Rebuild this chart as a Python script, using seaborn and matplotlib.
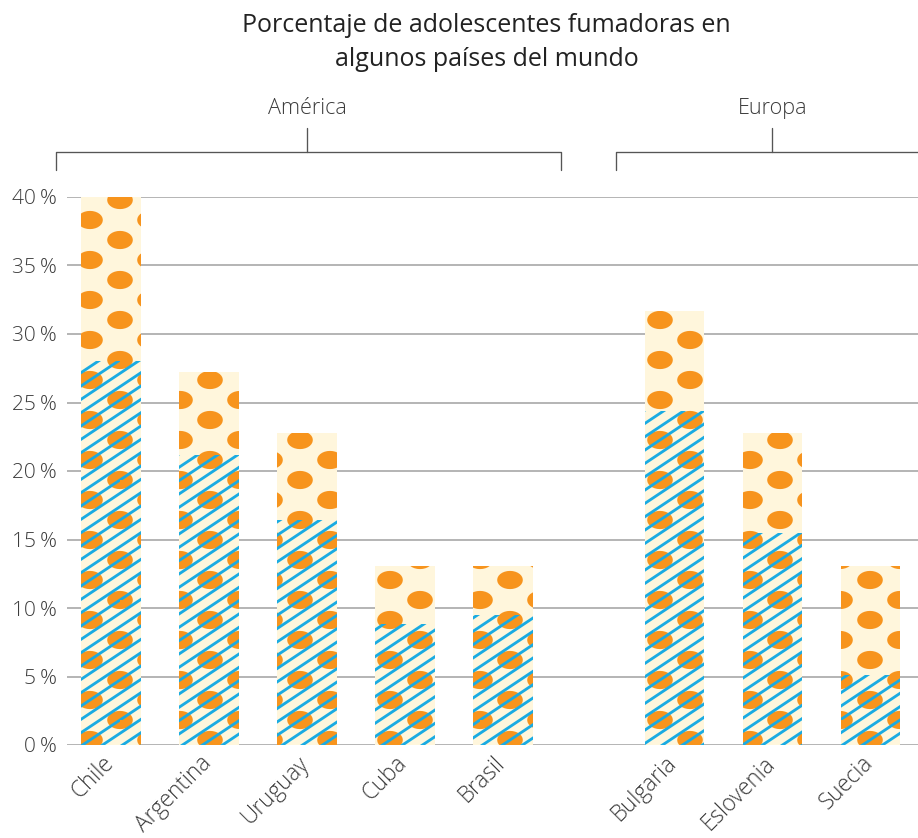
import numpy as np
import pandas as pd
import seaborn as sns
import matplotlib
matplotlib.use("Agg")
import matplotlib.pyplot as plt
import matplotlib.hatch as mhatch
import matplotlib.transforms as mtrans
from matplotlib.path import Path

# values, in percent
countries = ["Chile", "Argentina", "Uruguay", "Cuba", "Brasil",
             "Bulgaria", "Eslovenia", "Suecia"]
regions = ["América"] * 5 + ["Europa"] * 3
total_pct = [40.0, 27.2, 22.8, 13.1, 13.1, 31.7, 22.8, 13.1]
lower_pct = [28.0, 21.2, 16.4, 8.8, 9.5, 24.4, 15.5, 5.1]
y_ticks = [0, 5, 10, 15, 20, 25, 30, 35, 40]

CREAM = "#FFF6DC"
ORANGE = "#F7941D"
BLUE = "#1AABE2"
TEXT = "#3c3c3c"


# custom hatches: orange ellipses for "o", shallow slanted lines for "/"
class DotHatch:
    def __init__(self, hatch, density):
        self.centers = []
        if "o" in hatch:
            for y in (0, 1 / 3, 2 / 3, 1):
                for x in (0, 0.5, 1):
                    self.centers.append((x, y))
            for y in (1 / 6, 0.5, 5 / 6):
                for x in (0.25, 0.75):
                    self.centers.append((x, y))
        t = np.linspace(0, 2 * np.pi, 29)
        self.shape = np.column_stack([0.095 * np.cos(t), 0.064 * np.sin(t)])
        self.num_vertices = len(self.centers) * len(self.shape)

    def set_vertices_and_codes(self, vertices, codes):
        n = len(self.shape)
        for i, (cx, cy) in enumerate(self.centers):
            vertices[i * n:(i + 1) * n] = self.shape + (cx, cy)
            codes[i * n:(i + 1) * n] = Path.LINETO
            codes[i * n] = Path.MOVETO
            codes[(i + 1) * n - 1] = Path.CLOSEPOLY


class SlantHatch:
    def __init__(self, hatch, density):
        self.ks = list(range(-6, 9)) if "/" in hatch else []
        self.num_vertices = 2 * len(self.ks)

    def set_vertices_and_codes(self, vertices, codes):
        for i, k in enumerate(self.ks):
            vertices[2 * i] = (0, k / 9)
            vertices[2 * i + 1] = (1, k / 9 + 2 / 3)
            codes[2 * i] = Path.MOVETO
            codes[2 * i + 1] = Path.LINETO


mhatch._hatch_types = [DotHatch, SlantHatch]

sns.set_theme(style="white")
plt.rcParams["font.family"] = ["Open Sans", "DejaVu Sans"]
plt.rcParams["hatch.linewidth"] = 1.7

df = pd.DataFrame({"pais": countries, "region": regions,
                   "total": total_pct, "base": lower_pct})
# bar positions, with a gap between the two regions
pos = []
p = 0.0
for i, r in enumerate(regions):
    if i > 0 and r != regions[i - 1]:
        p += 0.75
    pos.append(p)
    p += 1
df["pos"] = pos

fig = plt.figure(figsize=(918 / 120, 838 / 120), dpi=120)
ax = fig.add_axes([67 / 918, 1 - 745 / 838, 1 - 67 / 918, (745 - 197) / 838])

sns.barplot(data=df, x="pos", y="total", native_scale=True, width=0.61,
            color=CREAM, saturation=1, ax=ax, zorder=2)
n_top = len(ax.patches)
sns.barplot(data=df, x="pos", y="base", native_scale=True, width=0.61,
            color=CREAM, saturation=1, ax=ax, zorder=3)

for i, patch in enumerate(ax.patches):
    if i < n_top:
        patch.set_facecolor(CREAM)
        patch.set_edgecolor(ORANGE)
        patch.set_hatch("o")
    else:
        patch.set_facecolor("none")
        patch.set_edgecolor(BLUE)
        patch.set_hatch("/")
    patch.set_linewidth(0)

ax.set_xlim(-0.449, 8.235)
ax.set_ylim(0, 40)
ax.yaxis.grid(True, color="#b0b0b0", linewidth=1.1)
ax.set_axisbelow(True)
sns.despine(ax=ax, left=True, bottom=True)

ax.set_yticks(y_ticks)
ax.set_yticklabels([f"{v}\u2009%" for v in y_ticks], color=TEXT,
                   fontsize=12.5, fontweight="light")
ax.set_xticks(pos)
ax.set_xticklabels(countries, rotation=45, ha="right", va="center",
                   rotation_mode="anchor", color=TEXT, fontsize=13.5,
                   fontweight="light")
ax.tick_params(axis="y", length=0, pad=6)
ax.tick_params(axis="x", length=0, pad=9)
shift = mtrans.ScaledTranslation(-1 / 120, 0, fig.dpi_scale_trans)
for lab in ax.get_xticklabels():
    lab.set_transform(lab.get_transform() + shift)
ax.set_xlabel("")
ax.set_ylabel("")

# region brackets above the bars
trans = ax.get_xaxis_transform()
for reg in ["América", "Europa"]:
    xs = [q for q, r in zip(pos, regions) if r == reg]
    left, right = xs[0] - 0.56, xs[-1] + 0.59
    if reg == "Europa":
        left = xs[0] - 0.6
    mid = (xs[0] + xs[-1]) / 2
    ax.plot([left, left, right, right], [1.049, 1.082, 1.082, 1.049],
            transform=trans, color="#555555", lw=0.8, clip_on=False)
    ax.plot([mid, mid], [1.082, 1.126], transform=trans,
            color="#555555", lw=0.8, clip_on=False)
    ax.text(mid, 1.161, reg, transform=trans, ha="center", va="center",
            color=TEXT, fontsize=13, fontweight="light")

fig.text(0.53, 0.9495, "Porcentaje de adolescentes fumadoras en\nalgunos países del mundo",
         ha="center", va="center", fontsize=15, color="#222222", linespacing=1.47)

fig.savefig("out.png", dpi=120)
